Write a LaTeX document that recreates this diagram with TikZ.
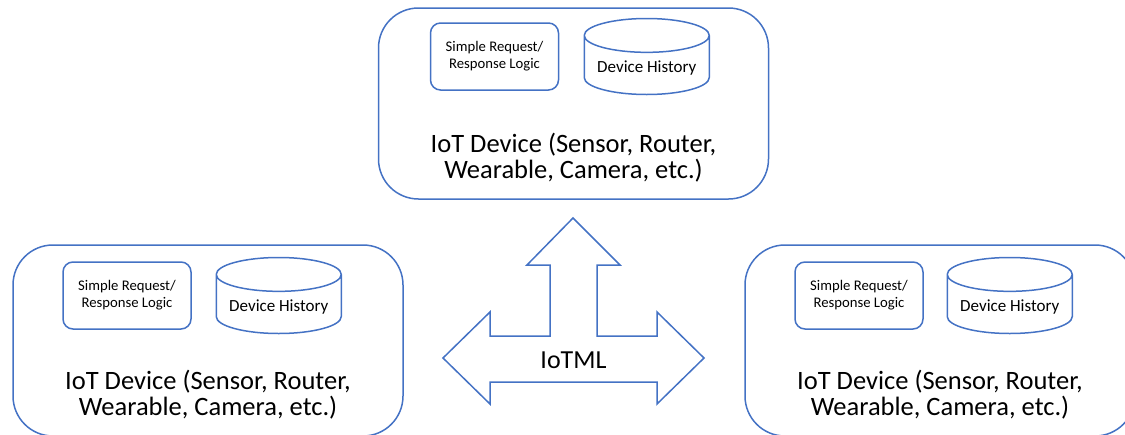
\documentclass[tikz,border=0pt]{standalone}
\usepackage{fontspec}
\setmainfont{Carlito}
\usetikzlibrary{positioning,shapes.geometric,calc}

\begin{document}
\begin{tikzpicture}[x=1pt,y=-1pt,
  device/.style={draw=iotblue,line width=1.5pt,rounded corners=40pt,minimum width=390pt,minimum height=191pt},
  logic/.style={draw=iotblue,line width=1.5pt,rounded corners=10pt,minimum width=128pt,minimum height=67pt,align=center,font=\fontsize{14.7}{17}\selectfont},
  history/.style={draw=iotblue,line width=1.5pt,cylinder,shape border rotate=90,aspect=0.32,minimum width=125pt,minimum height=76pt,anchor=shape center,font=\fontsize{17}{20}\selectfont},
  devtext/.style={align=center,font=\fontsize{26.5}{26}\selectfont},
  bigarrow/.style={draw=iotblue,line width=1.5pt,line join=miter}]
\definecolor{iotblue}{HTML}{4472C4}
\useasboundingbox (0,0) rectangle (1125,434);
%
\node[device] (top) at (573.5,103.5) {};
\node[logic, below right=15pt and 52pt of top.north west, anchor=north west] (toplogic) {Simple Request/\\Response Logic};
\node[history] (tophist) at ($(toplogic.east)+(87.5,0)$) {Device History};
\node[devtext, above=14pt of top.south] (toptext) {IoT Device (Sensor, Router,\\Wearable, Camera, etc.)};
%
\node[device] (left) at (208,340.5) {};
\node[logic, below right=17pt and 50pt of left.north west, anchor=north west] (leftlogic) {Simple Request/\\Response Logic};
\node[history] (lefthist) at ($(leftlogic.east)+(87,0)$) {Device History};
\node[devtext, above=14pt of left.south] (lefttext) {IoT Device (Sensor, Router,\\Wearable, Camera, etc.)};
%
\node[device] (right) at (940,340.5) {};
\node[logic, below right=17pt and 50pt of right.north west, anchor=north west] (rightlogic) {Simple Request/\\Response Logic};
\node[history] (righthist) at ($(rightlogic.east)+(86,0)$) {Device History};
\node[devtext, above=14pt of right.south] (righttext) {IoT Device (Sensor, Router,\\Wearable, Camera, etc.)};
%
% three-way arrow
\draw[bigarrow] (573,218) -- (620,265) -- (597,265) -- (597,336) -- (657,336) -- (657,312)
  -- (704,358) -- (657,404) -- (657,382) -- (490,382) -- (490,404) -- (443,358)
  -- (490,312) -- (490,336) -- (550,336) -- (550,265) -- (527,265) -- cycle;
\node[font=\fontsize{26}{30}\selectfont] (iotml) at (573.5,360) {IoTML};
\end{tikzpicture}
\end{document}
